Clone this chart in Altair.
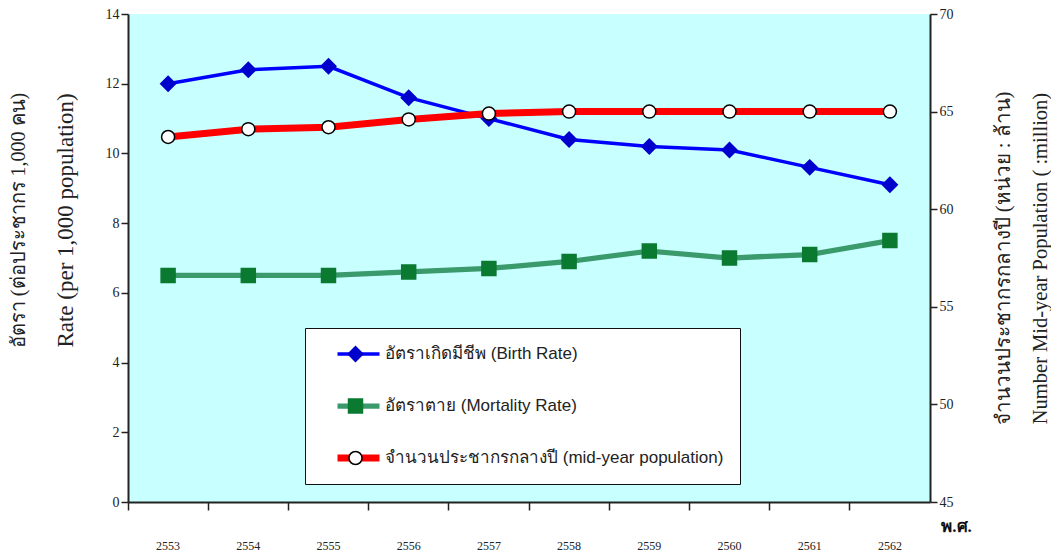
import altair as alt
import pandas as pd

years = ["2553", "2554", "2555", "2556", "2557", "2558", "2559", "2560", "2561", "2562"]
birth_rate = [12.0, 12.4, 12.5, 11.6, 11.0, 10.4, 10.2, 10.1, 9.6, 9.1]
mortality_rate = [6.5, 6.5, 6.5, 6.6, 6.7, 6.9, 7.2, 7.0, 7.1, 7.5]
population = [63.7, 64.1, 64.2, 64.6, 64.9, 65.0, 65.0, 65.0, 65.0, 65.0]

series_names = [
    "อัตราเกิดมีชีพ (Birth Rate)",
    "อัตราตาย (Mortality Rate)",
    "จำนวนประชากรกลางปี (mid-year population)",
]
marker_keys = ["b", "m", "p"]
line_colors = ["#0000FF", "#3A9A6C", "#FF0000"]
line_widths = [3.5, 7, 7.5]
marker_shapes = ["diamond", "square", "circle"]
marker_fills = ["#0000CC", "#0A7A30", "#FFFFFF"]
marker_strokes = ["#0000CC", "#0A7A30", "#000000"]
marker_sizes = [220, 170, 280]

left_title_th = "อัตรา (ต่อประชากร 1,000 คน)"
left_title_en = "Rate (per 1,000 population)"
right_title = ["จำนวนประชากรกลางปี (หน่วย : ล้าน)", "Number Mid-year Population  ( :million)"]
x_title = "พ.ศ."

rows = []
for i, y in enumerate(years):
    rows.append({"year": y, "series": series_names[0], "key": marker_keys[0], "value": birth_rate[i]})
    rows.append({"year": y, "series": series_names[1], "key": marker_keys[1], "value": mortality_rate[i]})
rates = pd.DataFrame(rows)
pop = pd.DataFrame({
    "year": years,
    "series": [series_names[2]] * len(years),
    "key": [marker_keys[2]] * len(years),
    "pop": population,
})

W, H = 802, 488
serif = "Liberation Serif"

x_enc = alt.X(
    "year:O",
    scale=alt.Scale(type="band", domain=years, paddingInner=0, paddingOuter=0),
    axis=alt.Axis(
        title=x_title, bandPosition=0, labelPadding=30, labelAngle=0,
        tickSize=8, labelFont=serif, labelFontSize=12, labelColor="#222",
        titleFont=serif, titleFontSize=17, titleFontWeight="bold", titleColor="#111",
        titleX=828, titleY=24, titleAlign="center", titleBaseline="middle", titleAngle=0,
    ),
)

line_legend = alt.Legend(
    orient="none", legendX=177, legendY=314, title=None, symbolType="stroke",
    symbolSize=1764, fillColor="white", strokeColor="#111", padding=16, rowPadding=32,
    labelFont="Liberation Sans", labelFontSize=17, labelColor="#222", symbolOffset=13,
    labelOffset=2, clipHeight=20, labelLimit=600,
)
point_legend = alt.Legend(
    orient="none", legendX=203, legendY=314, title=None, labelExpr="''",
    padding=16, rowPadding=32, clipHeight=20, symbolStrokeWidth=1.5,
)

color_enc = alt.Color("series:N", scale=alt.Scale(domain=series_names, range=line_colors), legend=line_legend)
sw_enc = alt.StrokeWidth("series:N", scale=alt.Scale(domain=series_names, range=line_widths), legend=line_legend)
shape_enc = alt.Shape("key:N", scale=alt.Scale(domain=marker_keys, range=marker_shapes), legend=point_legend)
fill_enc = alt.Fill("key:N", scale=alt.Scale(domain=marker_keys, range=marker_fills), legend=point_legend)
stroke_enc = alt.Stroke("key:N", scale=alt.Scale(domain=marker_keys, range=marker_strokes), legend=point_legend)
size_enc = alt.Size("key:N", scale=alt.Scale(domain=marker_keys, range=marker_sizes), legend=point_legend)

left_scale = alt.Scale(domain=[0, 14], nice=False)
y_left = alt.Y(
    "value:Q",
    scale=left_scale,
    axis=alt.Axis(
        orient="left", values=list(range(0, 15, 2)), title=left_title_th, titleAngle=270,
        titleBaseline="middle", titleAlign="center", titleX=-110, titleY=206,
        titleFont=serif, titleFontSize=20, titleFontWeight="normal", titleColor="#222",
        labelFont=serif, labelFontSize=14, labelColor="#222", tickSize=7,
    ),
)
y_left_en = alt.Y(
    "value:Q",
    scale=left_scale,
    axis=alt.Axis(
        orient="left", title=left_title_en, titleAngle=270, labels=False, ticks=False, domain=False,
        titleBaseline="middle", titleAlign="center", titleX=-63, titleY=206,
        titleFont=serif, titleFontSize=23, titleFontWeight="normal", titleColor="#222",
    ),
)
y_right = alt.Y(
    "pop:Q",
    scale=alt.Scale(domain=[45, 70], nice=False),
    axis=alt.Axis(
        orient="right", values=list(range(45, 71, 5)), title=right_title, titleLineHeight=37,
        titleAngle=270, titleBaseline="middle", titleAlign="center", titleX=73, titleY=H / 2,
        titleFont=serif, titleFontSize=20.5, titleFontWeight="normal", titleColor="#222",
        labelFont=serif, labelFontSize=14, labelColor="#222", tickSize=7,
    ),
)

rate_line = alt.Chart(rates).mark_line().encode(x=x_enc, y=y_left, color=color_enc, strokeWidth=sw_enc)
rate_pts = alt.Chart(rates).mark_point(filled=True, opacity=1, strokeWidth=1.5).encode(
    x=x_enc, y=y_left_en, shape=shape_enc, fill=fill_enc, stroke=stroke_enc, size=size_enc)
pop_line = alt.Chart(pop).mark_line().encode(x=x_enc, y=y_right, color=color_enc, strokeWidth=sw_enc)
pop_pts = alt.Chart(pop).mark_point(filled=True, opacity=1, strokeWidth=1.5).encode(
    x=x_enc, y=y_right, shape=shape_enc, fill=fill_enc, stroke=stroke_enc, size=size_enc)

left = alt.layer(rate_line, rate_pts).resolve_axis(y="independent")
right = alt.layer(pop_line, pop_pts)

chart = (
    alt.layer(left, right)
    .resolve_scale(y="independent")
    .properties(
        width=W, height=H, autosize=alt.AutoSizeParams(type="none"),
        padding={"left": 120, "top": 6, "right": 121, "bottom": 50},
        background="white",
    )
    .configure_view(fill="#C8FFFF", stroke=None)
    .configure_axis(domainColor="#222", domainWidth=2, tickColor="#222", tickWidth=1.5, grid=False)
)

chart.save("out.html", embed_options={"renderer": "svg", "actions": False})
